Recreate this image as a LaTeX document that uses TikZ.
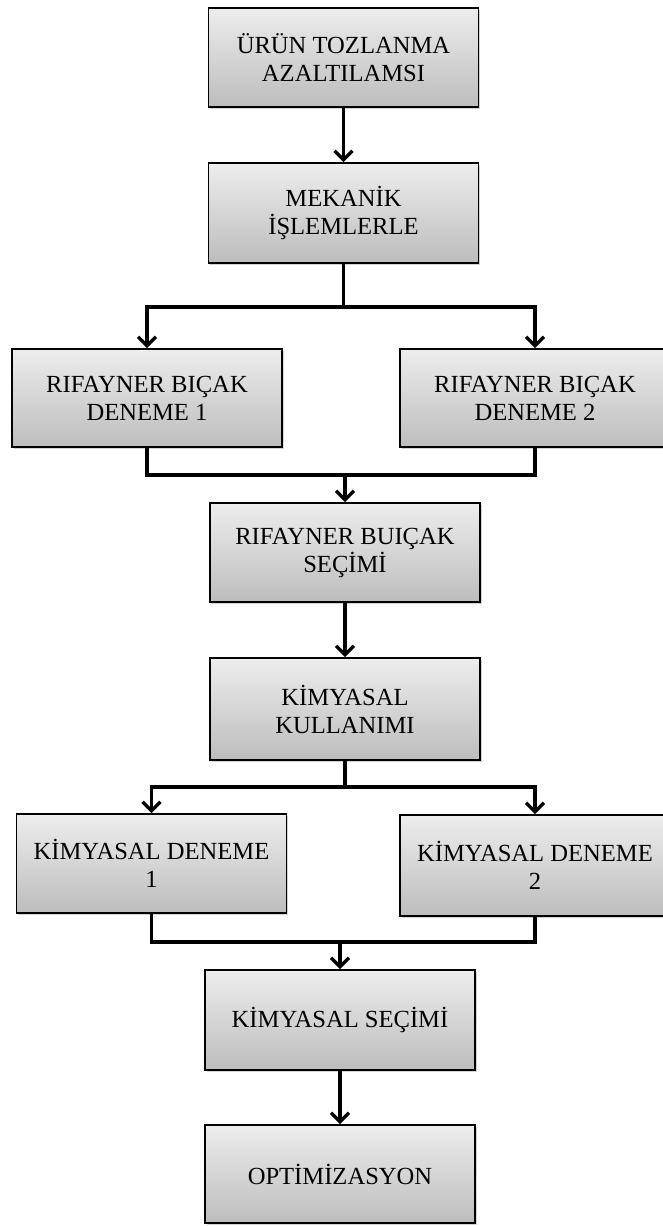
\documentclass[tikz,border=0pt]{standalone}
\usepackage{fontspec}
\setmainfont{Liberation Serif}
\usetikzlibrary{arrows.meta,shadows}
\tikzset{
  x=1pt,y=1pt,
  box/.style={draw=black,line width=1.6pt,rectangle,align=center,
    minimum width=270,
    top color=gray!14,bottom color=gray!52,
    drop shadow={shadow xshift=1.5pt,shadow yshift=-1.5pt,opacity=0.35},
    font=\fontsize{24.6}{28}\selectfont,inner sep=0pt},
  conn/.style={line width=3.4pt,line cap=rect},
  arr/.style={line width=3.4pt,-{Straight Barb[length=9pt,width=18pt]}},
}
\begin{document}
\begin{tikzpicture}
\useasboundingbox (0,0) rectangle (662,-1226);
\node[box,minimum height=99] (b1) at (343.5,-57.5) {ÜRÜN TOZLANMA\\AZALTILAMSI};
\node[box,minimum height=100] (b2) at (343.5,-213) {MEKANİK\\İŞLEMLERLE};
\node[box,minimum height=98] (b3l) at (147,-398) {RIFAYNER BIÇAK\\DENEME 1};
\node[box,minimum height=98] (b3r) at (535,-398) {RIFAYNER BIÇAK\\DENEME 2};
\node[box,minimum height=99] (b5) at (345,-552.5) {RIFAYNER BUIÇAK\\SEÇİMİ};
\node[box,minimum height=102] (b6) at (345,-709) {KİMYASAL\\KULLANIMI};
\node[box,minimum height=99] (b7l) at (151.5,-863.5) {KİMYASAL DENEME\\1};
\node[box,minimum height=101] (b7r) at (535,-865.5) {KİMYASAL DENEME\\2};
\node[box,minimum height=100] (b8) at (340,-1020) {KİMYASAL SEÇİMİ};
\node[box,minimum height=98] (b9) at (340,-1174) {OPTİMİZASYON};

\coordinate (j1) at (343.5,-307);
\coordinate (m1) at (345,-475);
\coordinate (j2) at (345,-787);
\coordinate (m2) at (340,-942);

\draw[arr] (b1.south) -- (b2.north);
\draw[conn] (b2.south) -- (j1);
\draw[arr] (j1) -| (b3l.north);
\draw[arr] (j1) -| (b3r.north);
\draw[conn] (b3l.south) |- (m1) -| (b3r.south);
\draw[arr] (m1) -- (b5.north);
\draw[arr] (b5.south) -- (b6.north);
\draw[conn] (b6.south) -- (j2);
\draw[arr] (j2) -| (b7l.north);
\draw[arr] (j2) -| (b7r.north);
\draw[conn] (b7l.south) |- (m2) -| (b7r.south);
\draw[arr] (m2) -- (b8.north);
\draw[arr] (b8.south) -- (b9.north);
\end{tikzpicture}
\end{document}
